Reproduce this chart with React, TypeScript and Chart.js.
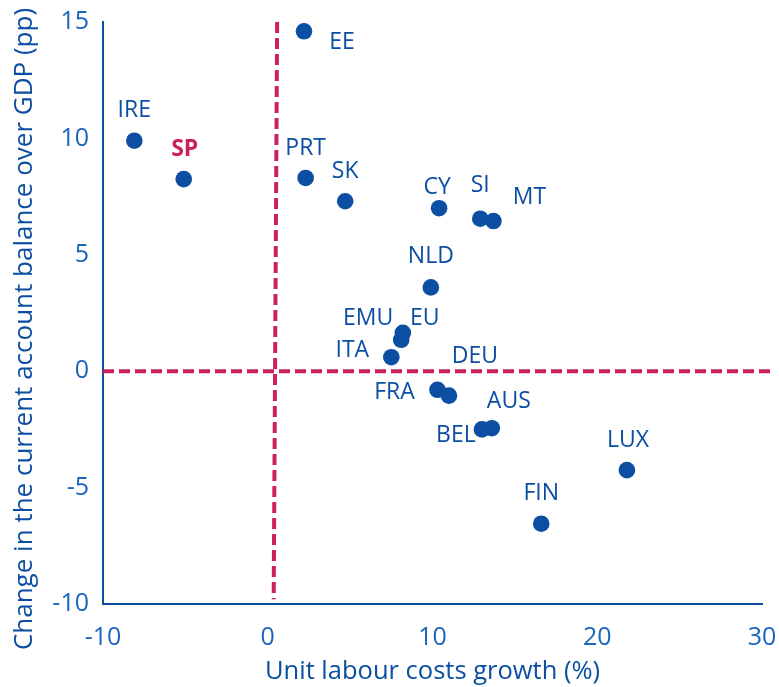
import React, { useEffect, useRef } from "react";
import { Chart, registerables } from "chart.js";

Chart.register(...registerables);

const countries = ["EE", "IRE", "SP", "PRT", "SK", "CY", "SI", "MT", "NLD", "EU", "EMU", "ITA", "DEU", "FRA", "AUS", "BEL", "LUX", "FIN"];
const ulcGrowth = [2.2, -8.1, -5.1, 2.3, 4.7, 10.4, 12.9, 13.7, 9.9, 8.2, 8.1, 7.5, 11.0, 10.3, 13.6, 13.0, 21.8, 16.6];
const caChange = [14.6, 9.9, 8.25, 8.3, 7.3, 7.0, 6.55, 6.45, 3.6, 1.65, 1.35, 0.6, -1.05, -0.8, -2.45, -2.5, -4.25, -6.55];
const xTicks = [-10, 0, 10, 20, 30];
const yTicks = [-10, -5, 0, 5, 10, 15];
const highlight = "SP";
const xTitle = "Unit labour costs growth (%)";
const yTitle = "Change in the current account balance over GDP (pp)";

// label placement (pixel offsets from the point), styling only
const labelOffsets: Record<string, [number, number]> = {
  EE: [38, 11], IRE: [0, -30], SP: [1, -30], PRT: [0, -30], SK: [0, -30], CY: [-2, -21],
  SI: [0, -33], MT: [36, -24], NLD: [0, -31], EU: [22, -14], EMU: [-33, -21], ITA: [-39, -7],
  DEU: [26, -39], FRA: [-43, 3], AUS: [17, -27], BEL: [-26, 6], LUX: [1, -30], FIN: [0, -30],
};

const BLUE = "#0b4ea2";
const TICK = "#1a64bd";
const MAGENTA = "#cc1f5e";
const FONT = "'Open Sans', 'Noto Sans', sans-serif";

export default function App() {
  const ref = useRef<HTMLCanvasElement>(null);
  useEffect(() => {
    document.body.style.margin = "0";
    const labelPlugin = {
      id: "pointLabels",
      afterDatasetsDraw(chart: any) {
        const meta = chart.getDatasetMeta(0);
        const ctx = chart.ctx;
        ctx.save();
        ctx.textAlign = "center";
        ctx.textBaseline = "middle";
        meta.data.forEach((el: any, i: number) => {
          const name = countries[i];
          const off = labelOffsets[name] || [0, -30];
          const isHi = name === highlight;
          ctx.fillStyle = isHi ? MAGENTA : BLUE;
          ctx.font = `${isHi ? "bold " : ""}23px ${FONT}`;
          ctx.fillText(name, el.x + off[0], el.y + off[1]);
        });
        // y axis title
        ctx.translate(25, 329);
        ctx.rotate(-Math.PI / 2);
        ctx.fillStyle = BLUE;
        ctx.font = `26px ${FONT}`;
        ctx.fillText(yTitle, 0, 0);
        ctx.restore();
      },
    };
    const dashed = {
      type: "line",
      borderColor: MAGENTA,
      borderWidth: 4,
      borderDash: [11, 5],
      borderCapStyle: "butt",
      pointRadius: 0,
      clip: false,
      order: 1,
    };
    const chart = new Chart(ref.current!, {
      type: "scatter",
      data: {
        datasets: [
          {
            data: ulcGrowth.map((x, i) => ({ x, y: caChange[i] })),
            backgroundColor: BLUE,
            borderColor: BLUE,
            pointRadius: 8.3,
            pointHoverRadius: 8.3,
            borderWidth: 0,
            order: 0,
          },
          { ...dashed, data: [{ x: -10, y: 0 }, { x: 30.7, y: 0 }] } as any,
          { ...dashed, data: [{ x: 0.57, y: 15 }, { x: 0.36, y: -9.8 }] } as any,
        ],
      },
      options: {
        animation: false,
        responsive: false,
        layout: { padding: { top: 22, right: 17, left: 0, bottom: 0 } },
        plugins: { legend: { display: false }, tooltip: { enabled: false } },
        scales: {
          x: {
            type: "linear",
            min: -10,
            max: 30,
            afterBuildTicks: (s: any) => { s.ticks = xTicks.map((v) => ({ value: v })); },
            afterFit: (s: any) => { s.height = 83; s.paddingRight = 0; },
            grid: { display: false, drawOnChartArea: false, drawTicks: true, tickLength: 8, color: "#8aa6d3" },
            border: { display: true, color: BLUE, width: 2 },
            ticks: { color: TICK, font: { family: FONT, size: 25 }, padding: 11 },
            title: { display: true, text: xTitle, color: BLUE, font: { family: FONT, size: 25.5 }, padding: { top: 2, bottom: 0 } },
          },
          y: {
            type: "linear",
            min: -10,
            max: 15,
            afterBuildTicks: (s: any) => { s.ticks = yTicks.map((v) => ({ value: v })); },
            afterFit: (s: any) => { s.width = 103; },
            grid: { display: false, drawOnChartArea: false, drawTicks: true, tickLength: 8, color: BLUE },
            border: { display: true, color: BLUE, width: 2 },
            ticks: { color: TICK, font: { family: FONT, size: 25 }, padding: 6 },
            title: { display: false },
          },
        },
      },
      plugins: [labelPlugin],
    } as any);
    return () => chart.destroy();
  }, []);
  return (
    <div style={{ width: 779, height: 687 }}>
      <canvas ref={ref} width={779} height={687} style={{ display: "block" }} />
    </div>
  );
}
